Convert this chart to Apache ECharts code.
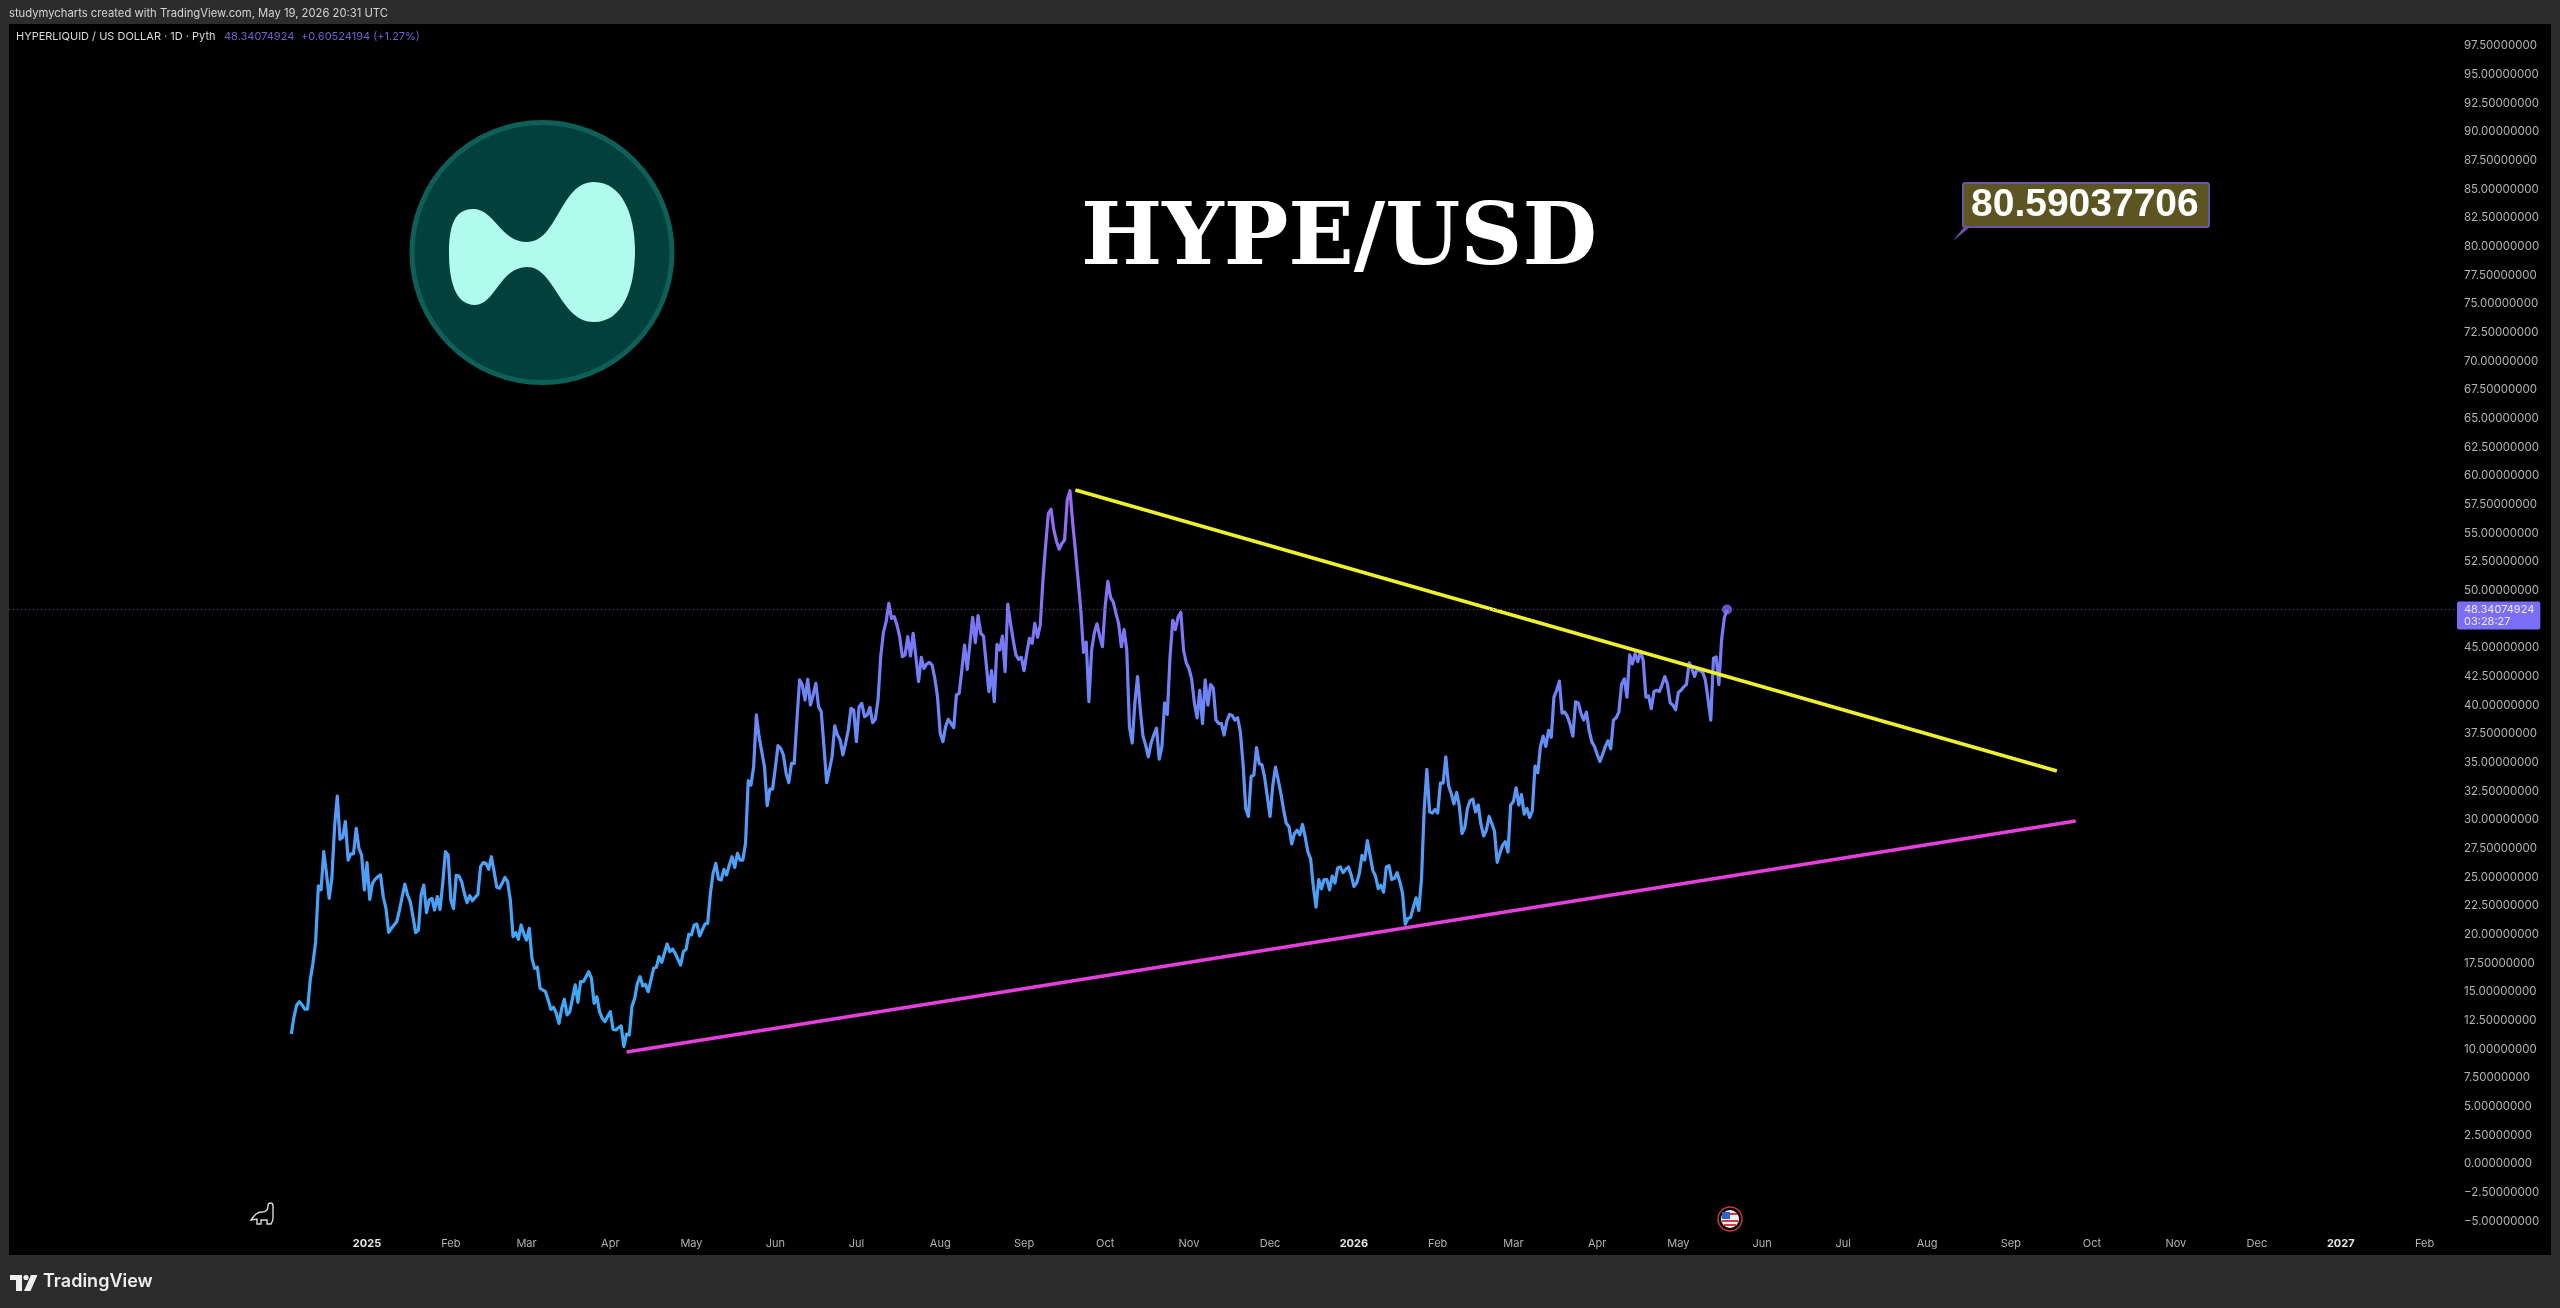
<!DOCTYPE html>
<html>
<head>
    <meta charset="utf-8">
    <style>
        html, body {
            height: 100%;
            margin: 0;
            padding: 0;
            background: #2c2c2c;
        }

        .container {
            width: 100%;
            height: 100%;
        }
    </style>
</head>
<body>
<div id="main" class="container"></div>

<script src="https://cdn.jsdelivr.net/npm/echarts@6/dist/echarts.min.js"></script>
<script type="text/javascript">
// daily closes, first one is 2024-12-04
var priceStart = '2024-12-04';
var closes = [
    11.33, 12.85, 13.86, 14.15, 13.86, 13.51, 13.51, 16.04, 17.5, 19.38,
    24.24, 23.89, 27.23, 25.34, 23.16, 24.91, 29.41, 32.08, 28.31, 28.48,
    29.85, 26.5, 27.03, 27.03, 29.27, 27.52, 26.94, 23.89, 26.27, 23.07,
    24.47, 24.82, 25.05, 25.2, 23.3, 22.29, 20.2, 20.55, 20.84, 21.13,
    22.14, 23.3, 24.41, 23.45, 22.87, 21.56, 20.17, 20.4, 23.45, 24.32,
    21.91, 23.02, 23.16, 22.14, 23.31, 22.2, 24.47, 27.23, 26.94, 23.02,
    22.26, 25.17, 25.11, 24.61, 23.6, 22.78, 23.39, 22.96, 23.25, 23.51,
    25.92, 26.27, 26.21, 25.69, 26.79, 25.49, 24.12, 24.03, 24.47, 24.99,
    24.61, 23.02, 19.82, 20.17, 19.59, 20.84, 20.05, 19.53, 20.55, 17.93,
    17.06, 17.15, 15.32, 15.17, 15.02, 14.3, 13.48, 13.66, 13.14, 12.26,
    13.57, 14.36, 12.99, 13.28, 14.44, 15.61, 14.09, 15.9, 15.9, 16.33,
    16.77, 16.19, 14.01, 14.59, 13.28, 12.7, 12.41, 12.85, 13.28, 11.74,
    11.68, 11.89, 12.03, 10.23, 11.33, 11.25, 13.72, 14.44, 15.75, 16.33,
    15.52, 15.66, 15.02, 16.04, 17.06, 17.15, 18.08, 17.58, 18.37, 19.18,
    18.51, 18.74, 18.37, 17.84, 17.35, 18.51, 18.72, 20.02, 19.97, 20.84,
    20.92, 19.88, 20.4, 20.92, 20.98, 23.6, 25.34, 26.21, 24.82, 24.76,
    25.69, 25.2, 26.07, 26.79, 25.86, 27.08, 26.5, 26.5, 27.96, 33.42,
    33.04, 34.64, 39.15, 37.26, 35.95, 34.64, 31.24, 32.69, 32.69, 34.5,
    36.47, 36.24, 35.66, 34.06, 33.25, 34.93, 34.93, 38.71, 42.2, 41.76,
    40.45, 42.26, 40.02, 40.89, 41.91, 39.87, 39.44, 36.38, 33.25, 34.35,
    35.51, 38.19, 37.4, 36.97, 35.66, 36.68, 37.84, 39.73, 39.58, 36.82,
    39.87, 40.16, 39.0, 39.15, 39.81, 38.48, 38.77, 40.45, 44.23, 46.35,
    47.28, 48.88, 47.57, 47.72, 47.0, 45.98, 44.23, 44.38, 45.98, 44.29,
    46.27, 44.23, 42.05, 44.17, 43.21, 43.59, 43.74, 43.5, 42.34, 40.74,
    37.55, 36.82, 38.13, 38.77, 38.42, 38.04, 40.89, 41.03, 43.07, 45.25,
    43.13, 45.39, 47.66, 45.45, 47.81, 46.27, 46.03, 43.65, 41.18, 43.01,
    40.31, 45.31, 44.81, 46.03, 42.92, 48.82, 47.14, 45.68, 44.38, 44.0,
    44.17, 43.01, 44.52, 45.83, 45.39, 47.14, 45.92, 46.99, 50.9, 53.97,
    56.73, 57.08, 55.3, 54.3, 53.6, 54.1, 54.4, 57.9, 58.7, 55.9,
    53.5, 50.9, 48.3, 44.6, 45.5, 40.3, 44.8, 46.3, 47.1, 46.0,
    45.1, 48.6, 50.8, 49.4, 49.0, 48.0, 47.1, 45.1, 46.6, 44.8,
    38.1, 36.7, 40.2, 42.5, 39.6, 37.3, 36.5, 35.5, 36.7, 37.4,
    38.0, 35.3, 36.4, 40.2, 39.2, 44.2, 47.4, 46.6, 47.7, 48.1,
    44.8, 43.7, 43.2, 42.3, 40.2, 38.9, 41.3, 38.4, 42.2, 40.0,
    41.8, 41.5, 38.7, 38.4, 38.4, 37.4, 38.6, 39.2, 39.1, 38.7,
    38.9, 37.7, 34.9, 31.0, 30.3, 33.8, 33.9, 36.3, 34.9, 34.8,
    33.7, 32.0, 30.3, 33.0, 34.6, 33.5, 32.3, 30.9, 29.7, 29.4,
    27.9, 28.8, 29.1, 28.7, 29.6, 28.5, 27.2, 26.6, 24.2, 22.4,
    24.8, 24.0, 24.8, 24.8, 23.9, 25.1, 24.5, 25.8, 25.9, 25.4,
    25.7, 25.9, 25.2, 24.2, 24.5, 25.3, 26.9, 26.5, 28.2, 26.9,
    25.6, 25.1, 24.0, 24.3, 23.7, 25.9, 26.0, 24.8, 24.9, 25.4,
    24.6, 23.6, 20.9, 21.4, 21.5, 22.4, 23.2, 22.1, 24.8, 30.9,
    34.4, 30.7, 30.6, 30.9, 30.6, 33.2, 33.2, 35.5, 33.0, 32.3,
    31.4, 32.4, 31.2, 28.8, 29.3, 31.0, 31.7, 31.8, 30.7, 31.3,
    29.6, 28.6, 29.1, 30.3, 29.7, 29.0, 26.3, 27.1, 27.8, 28.1,
    27.2, 31.3, 31.6, 32.8, 31.3, 32.2, 30.5, 31.0, 30.2, 30.8,
    34.7, 34.1, 36.4, 37.3, 36.4, 37.8, 37.2, 40.7, 41.3, 42.1,
    39.3, 39.4, 39.0, 38.3, 37.3, 40.3, 40.2, 39.3, 38.7, 39.4,
    37.8, 36.8, 36.4, 35.7, 35.1, 35.7, 36.4, 36.9, 36.2, 38.7,
    38.9, 39.4, 41.8, 42.3, 40.7, 44.4, 43.6, 44.5, 43.8, 44.7,
    43.9, 40.7, 40.8, 39.7, 41.2, 41.3, 41.2, 41.8, 42.5, 41.8,
    40.2, 40.0, 39.6, 41.1, 41.3, 41.6, 41.8, 43.7, 43.2, 42.5,
    43.2, 43.0, 42.9, 42.2, 40.5, 38.7, 44.1, 44.2, 41.8, 45.7,
    47.6, 48.34074924
];

var tickDates = ['2025-01-01', '2025-02-01', '2025-03-01', '2025-04-01', '2025-05-01', '2025-06-01', '2025-07-01',
    '2025-08-01', '2025-09-01', '2025-10-01', '2025-11-01', '2025-12-01', '2026-01-01', '2026-02-01', '2026-03-01',
    '2026-04-01', '2026-05-01', '2026-06-01', '2026-07-01', '2026-08-01', '2026-09-01', '2026-10-01', '2026-11-01',
    '2026-12-01', '2027-01-01', '2027-02-01'];
var tickLabels = ['2025', 'Feb', 'Mar', 'Apr', 'May', 'Jun', 'Jul', 'Aug', 'Sep', 'Oct', 'Nov', 'Dec',
    '2026', 'Feb', 'Mar', 'Apr', 'May', 'Jun', 'Jul', 'Aug', 'Sep', 'Oct', 'Nov', 'Dec', '2027', 'Feb'];

// the two hand drawn trend lines
var resistanceDates = ['2025-09-20', '2026-09-18'];
var resistanceValues = [58.76, 34.26];
var supportDates = ['2025-04-07', '2026-09-25'];
var supportValues = [9.76, 29.9];

var lastPrice = 48.34074924;
var countdown = '03:28:27';

var uiFont = 'Inter';
var DAY = 86400000;

var startTime = +new Date(priceStart);
var priceData = closes.map(function (v, i) {
    return [startTime + i * DAY, v];
});
var tickTimes = tickDates.map(function (d) {
    return +new Date(d);
});

function trendData(dates, values) {
    return dates.map(function (d, i) {
        return [+new Date(d), values[i]];
    });
}

function label(x, y, text, fill, size, weight, family) {
    return {
        type: 'text',
        silent: true,
        x: x,
        y: y,
        style: {
            text: text,
            fill: fill,
            font: (weight || 'normal') + ' ' + size + 'px "' + (family || uiFont) + '"',
            verticalAlign: 'middle'
        }
    };
}

// graphic has no plain svg path type, so register the two icons as shapes
echarts.graphic.registerShape('hypeMark', echarts.graphic.extendPath(
    'M449 253 C449 225 455 209 473 209 C495 209 500 242 527 242 C558 242 560 182 594 182 ' +
    'C622 182 635 215 635 250 C635 290 622 322 594 322 C560 322 555 267 527 267 ' +
    'C500 267 495 305 475 305 C455 305 449 280 449 253 Z', {}));
echarts.graphic.registerShape('dino', echarts.graphic.extendPath(
    'M268 1206 C268 1202 273 1202 273 1206 L273 1218 C273 1221 271 1224 271 1224 L267 1224 L267 1220 ' +
    'L261 1220 L261 1224 L257 1224 L257 1219 L251 1220 C254 1216 256 1212 262 1212 C266 1212 268 1210 268 1206 Z', {}));

var chart = echarts.init(document.getElementById('main'));

var option = {
    animation: false,
    backgroundColor: '#2c2c2c',
    title: {
        text: 'HYPE/USD',
        left: 1076,
        top: 194,
        textStyle: {
            color: '#ffffff',
            fontFamily: 'DejaVu Serif',
            fontWeight: 'bold',
            fontSize: 86
        }
    },
    grid: {
        left: 9,
        right: 103,
        top: 45.7,
        bottom: 58
    },
    // value axis holding timestamps, time axis breaks on customValues
    xAxis: {
        type: 'value',
        min: +new Date('2024-08-21T14:00:00Z'),
        max: +new Date('2027-02-13'),
        axisLine: {show: false},
        axisTick: {show: false},
        splitLine: {show: false},
        axisLabel: {
            inside: true,
            margin: 1,
            customValues: tickTimes,
            color: '#b2b2b2',
            fontFamily: uiFont,
            fontSize: 11,
            formatter: function (value) {
                var text = tickLabels[tickTimes.indexOf(value)];
                return /^\d/.test(text) ? '{year|' + text + '}' : text;
            },
            rich: {
                year: {
                    color: '#e6e6e6',
                    fontFamily: uiFont,
                    fontSize: 11,
                    fontWeight: 'bold'
                }
            }
        }
    },
    yAxis: {
        type: 'value',
        position: 'right',
        min: -7.5,
        max: 97.5,
        interval: 2.5,
        axisLine: {show: false},
        axisTick: {show: false},
        splitLine: {show: false},
        axisLabel: {
            margin: 7,
            color: '#b2b2b2',
            fontFamily: uiFont,
            fontSize: 11.5,
            formatter: function (value) {
                if (value === -7.5) {
                    return '';
                }
                return (value < 0 ? '\u2212' + Math.abs(value).toFixed(8) : value.toFixed(8));
            }
        }
    },
    series: [
        {
            name: 'HYPE/USD',
            type: 'line',
            data: priceData,
            showSymbol: false,
            lineStyle: {
                width: 3.2,
                join: 'round',
                color: new echarts.graphic.LinearGradient(0, 0, 0, 1, [
                    {offset: 0, color: '#9a6bf0'},
                    {offset: 0.25, color: '#7c76f6'},
                    {offset: 0.55, color: '#5a98f8'},
                    {offset: 0.8, color: '#44a5f6'},
                    {offset: 1, color: '#3da9f5'}
                ])
            },
            markLine: {
                silent: true,
                symbol: 'none',
                lineStyle: {color: '#5b4f96', type: [1, 3], width: 1},
                data: [{yAxis: lastPrice}],
                label: {
                    show: true,
                    position: 'end',
                    distance: 0,
                    offset: [0, 6],
                    formatter: lastPrice.toFixed(8) + '\n' + countdown,
                    align: 'left',
                    backgroundColor: '#7b6ef6',
                    borderRadius: 2,
                    padding: [2, 6, 2, 7],
                    color: '#ece9ff',
                    fontFamily: uiFont,
                    fontSize: 11,
                    lineHeight: 12
                }
            }
        },
        {
            name: 'last',
            type: 'scatter',
            data: [priceData[priceData.length - 1]],
            symbolSize: 10,
            itemStyle: {color: '#7b6ef6'}
        },
        {
            name: 'resistance',
            type: 'line',
            data: trendData(resistanceDates, resistanceValues),
            showSymbol: false,
            lineStyle: {color: '#eef02c', width: 3.6}
        },
        {
            name: 'support',
            type: 'line',
            data: trendData(supportDates, supportValues),
            showSymbol: false,
            lineStyle: {color: '#e540dc', width: 3.6}
        }
    ],
    graphic: {
        elements: [
            // dark panel behind the plot
            {type: 'rect', silent: true, z: -1, shape: {x: 9, y: 24, width: 2542, height: 1231}, style: {fill: '#000000'}},

            label(9, 14, 'studymycharts created with TradingView.com, May 19, 2026 20:31 UTC', '#d4d4d4', 11.25),
            label(16, 37, 'HYPERLIQUID / US DOLLAR \u00b7 1D \u00b7 Pyth', '#d8d8d8', 11),
            label(224, 37, '48.34074924', '#6f60cc', 11),
            label(301, 37, '+0.60524194 (+1.27%)', '#6f60cc', 11),

            // logo
            {type: 'circle', silent: true, shape: {cx: 542, cy: 252.5, r: 130}, style: {fill: '#02403c', stroke: '#0d5f58', lineWidth: 5}},
            {type: 'hypeMark', silent: true, style: {fill: '#b0fbee'}},

            // price note
            {type: 'polygon', silent: true, shape: {points: [[1964, 227], [1970, 227], [1953, 241]]}, style: {fill: '#6a55a8'}},
            {type: 'rect', silent: true, shape: {x: 1963, y: 183, width: 246, height: 44, r: 2}, style: {fill: '#5c5421', stroke: '#6a55a8', lineWidth: 2}},
            label(1971, 205, '80.59037706', '#ffffff', 39, 'bold', 'Liberation Sans'),

            {type: 'dino', silent: true, style: {fill: 'none', stroke: '#d8d8d8', lineWidth: 1.4}},

            // earnings flag
            {type: 'circle', silent: true, shape: {cx: 1730, cy: 1219, r: 12}, style: {fill: '#000000', stroke: '#c8343f', lineWidth: 1.5}},
            {type: 'circle', silent: true, shape: {cx: 1730, cy: 1219, r: 9}, style: {fill: '#f2f2f2'}},
            {type: 'rect', silent: true, shape: {x: 1722, y: 1212, width: 8, height: 7}, style: {fill: '#2f62c8'}},
            {type: 'rect', silent: true, shape: {x: 1730, y: 1213, width: 7, height: 2}, style: {fill: '#d63a44'}},
            {type: 'rect', silent: true, shape: {x: 1722, y: 1220, width: 16, height: 2}, style: {fill: '#d63a44'}},
            {type: 'rect', silent: true, shape: {x: 1724, y: 1224, width: 12, height: 2}, style: {fill: '#d63a44'}},

            // footer
            {type: 'polygon', silent: true, shape: {points: [[10, 1275], [22, 1275], [22, 1291], [16, 1291], [16, 1280], [10, 1280]]}, style: {fill: '#eeeeee'}},
            {type: 'circle', silent: true, shape: {cx: 26, cy: 1277.5, r: 2.6}, style: {fill: '#eeeeee'}},
            {type: 'polygon', silent: true, shape: {points: [[31, 1275], [37.5, 1275], [30.5, 1291], [24, 1291]]}, style: {fill: '#eeeeee'}},
            label(43, 1282, 'TradingView', '#eeeeee', 18, '600')
        ]
    }
};

chart.setOption(option);
</script>
</body>
</html>
